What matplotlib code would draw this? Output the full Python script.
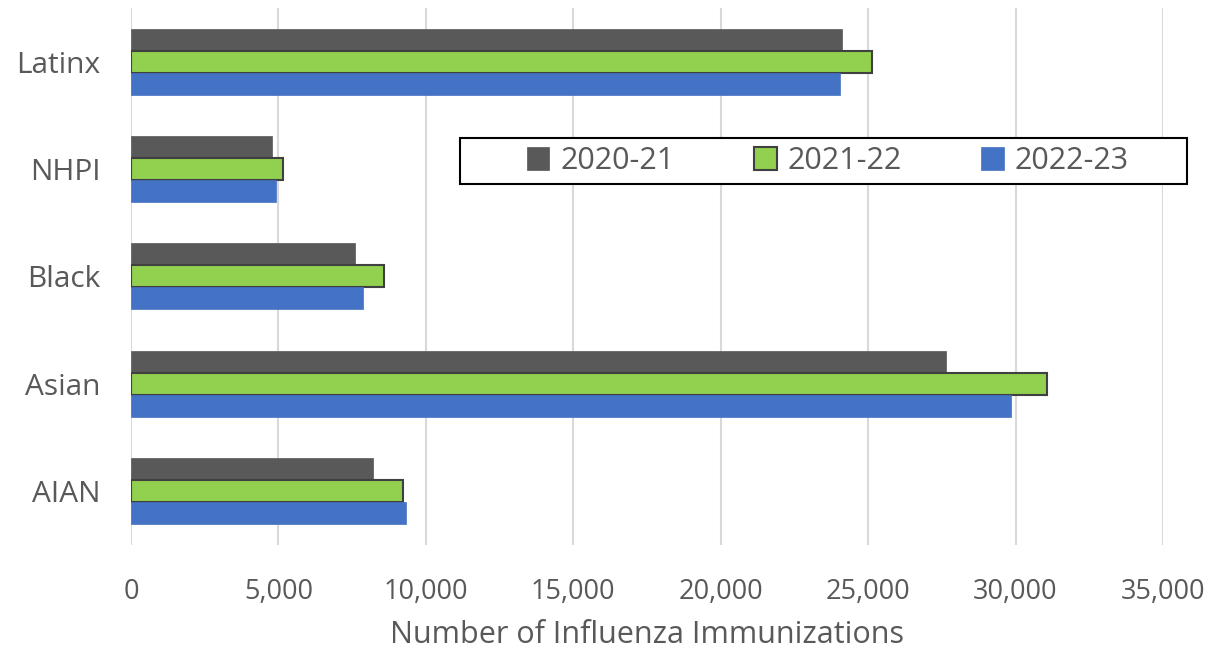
import numpy as np
import matplotlib.pyplot as plt
from matplotlib.ticker import FuncFormatter
from matplotlib.patches import Rectangle

groups = ['Latinx', 'NHPI', 'Black', 'Asian', 'AIAN']
seasons = ['2020-21', '2021-22', '2022-23']
vals_2020 = [24100, 4780, 7600, 27640, 8210]
vals_2021 = [25130, 5150, 8580, 31060, 9220]
vals_2022 = [24040, 4920, 7870, 29840, 9330]

colors = ['#595959', '#92D050', '#4472C4']
edges = ['#595959', '#404040', '#4472C4']

plt.rcParams['font.family'] = ['Open Sans', 'DejaVu Sans']
fig = plt.figure(figsize=(12.19, 6.52), dpi=100)
ax = fig.add_axes([0.1075, 0.164, 0.8465, 0.824])

y = np.arange(len(groups))
h = 0.205
for i, (vals, c, e) in enumerate(zip([vals_2020, vals_2021, vals_2022], colors, edges)):
    ax.barh(y + (i - 1) * h, vals, height=h, color=c, edgecolor=e,
            linewidth=1.5 if i == 1 else 0.5, label=seasons[i], zorder=3)

ax.set_ylim(len(groups) - 0.5, -0.5)
ax.set_xlim(0, 35000)
ax.set_xticks(np.arange(0, 35001, 5000))
ax.xaxis.set_major_formatter(FuncFormatter(lambda v, p: f'{int(v):,}'))
ax.set_yticks(y)
ax.set_yticklabels(groups)
ax.grid(axis='x', color='#d9d9d9', linewidth=1.5, zorder=0)
for s in ax.spines.values():
    s.set_visible(False)
ax.tick_params(length=0, colors='#595959', labelsize=19.5)
ax.tick_params(axis='y', labelsize=21.5, pad=22)
ax.tick_params(axis='x', pad=24)
ax.set_xlabel('Number of Influenza Immunizations', fontsize=22, color='#595959', labelpad=10)

leg = fig.legend(loc='center', bbox_to_anchor=(0.679, 0.753), ncol=3, fontsize=22,
                 frameon=False, handlelength=0.75, handleheight=0.75, handletextpad=0.35,
                 columnspacing=2.6, borderaxespad=0)
for t in leg.get_texts():
    t.set_color('#595959')
fig.patches.append(Rectangle((460 / 1219, 1 - 184 / 652), 727 / 1219, 46 / 652,
                             transform=fig.transFigure, facecolor='white',
                             edgecolor='black', linewidth=1.5, zorder=0.5))

fig.savefig('out.png', dpi=100)
